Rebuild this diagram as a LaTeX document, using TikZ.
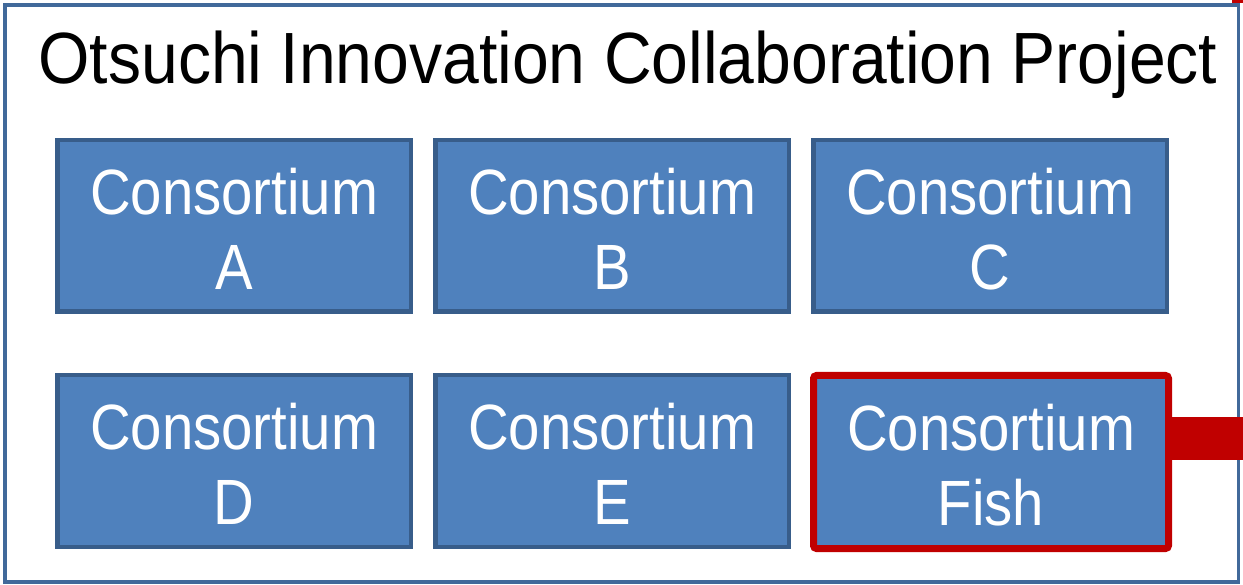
\documentclass[tikz,border=0pt]{standalone}
\usepackage{fontspec}
\setmainfont{Liberation Sans}
\newfontfamily\titlefont[FakeStretch=0.91]{Liberation Sans}
\newfontfamily\boxfont[FakeStretch=0.88]{Liberation Sans}
\definecolor{frameblue}{HTML}{41699A}
\definecolor{edgeblue}{HTML}{385D8A}
\definecolor{boxblue}{HTML}{4F81BD}
\definecolor{fishred}{HTML}{C00000}
\begin{document}
\begin{tikzpicture}[x=1pt, y=-1pt,
	consort/.style={draw=edgeblue, fill=boxblue, line width=4.5pt, minimum width=353.5pt, minimum height=171.5pt, inner sep=0pt, align=center, text=white, font=\boxfont\fontsize{64}{75}\selectfont},
	fishbox/.style={consort, draw=fishred, line width=7pt, rounded corners=3pt, minimum width=355pt, minimum height=173pt}]

	\useasboundingbox (0,0) rectangle (1243,585);

	% frame
	\draw [frameblue, line width=3.5pt] (5,5) rectangle (1238.5,582);
	\fill [fishred] (1232,0) rectangle (1243,3);

	% title
	\node (title) at (628,65) {\titlefont\fontsize{72.6}{87}\selectfont Otsuchi Innovation Collaboration Project};

	% consortia
	\node [consort] (consA) at (234,226) {\strut Consortium\\A};
	\node [consort] (consB) at (612,226) {\strut Consortium\\B};
	\node [consort] (consC) at (990,226) {\strut Consortium\\C};
	\node [consort] (consD) at (234,461) {\strut Consortium\\D};
	\node [consort] (consE) at (612,461) {\strut Consortium\\E};
	\node [fishbox] (consFish) at (991,462) {\strut Consortium\\Fish};

	% link out of the frame
	\coordinate (out) at (1250,438.5);
	\draw [fishred, line width=43pt] (consFish.east |- out) -- (out);

\end{tikzpicture}
\end{document}
